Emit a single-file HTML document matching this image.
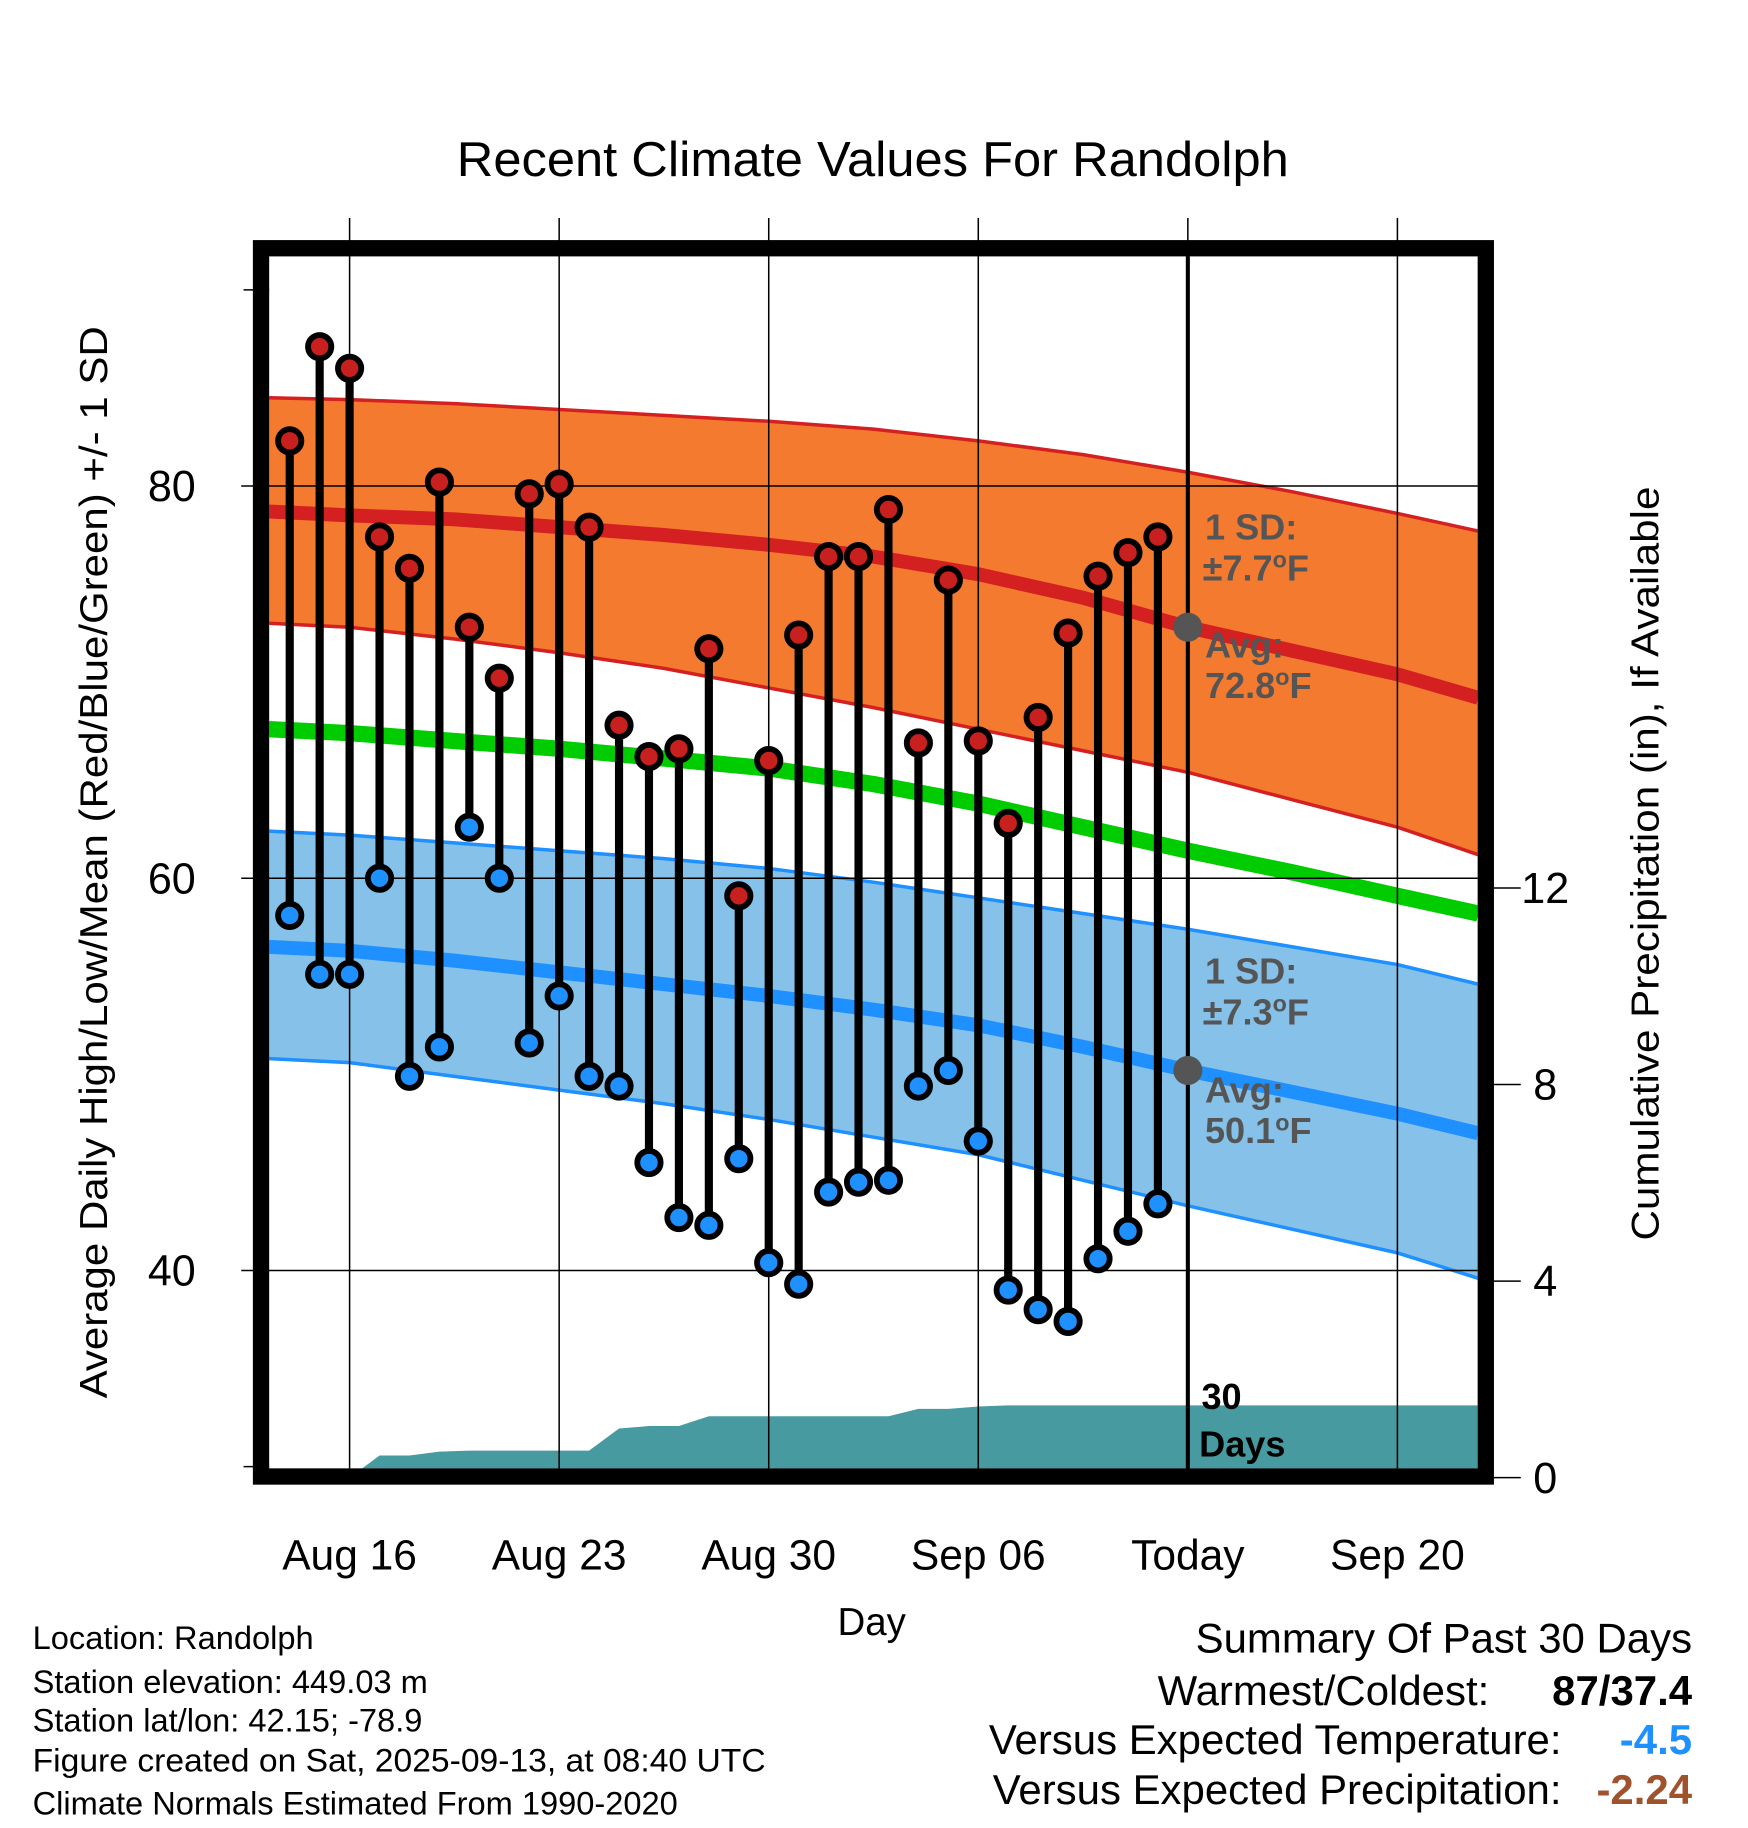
<!DOCTYPE html>
<html><head><meta charset="utf-8"><style>
html,body{margin:0;padding:0;background:#fff}
svg{display:block;font-family:"Liberation Sans",Arial,sans-serif}
</style></head><body>
<svg id="chart" width="1748" height="1828" viewBox="0 0 1500 1568.6" xmlns="http://www.w3.org/2000/svg">
<rect width="1500" height="1568.6" fill="#fff"/>
<text x="749" y="151" font-size="42" text-anchor="middle" textLength="714" lengthAdjust="spacingAndGlyphs">Recent Climate Values For Randolph</text>
<g id="plot"></g>
<text transform="translate(92,740) rotate(-90)" font-size="33" text-anchor="middle" textLength="920" lengthAdjust="spacingAndGlyphs">Average Daily High/Low/Mean (Red/Blue/Green) +/- 1 SD</text>
<text transform="translate(1423,741) rotate(-90)" font-size="33" text-anchor="middle" textLength="647" lengthAdjust="spacingAndGlyphs">Cumulative Precipitation (in), If Available</text>
<text x="748" y="1403" font-size="33" text-anchor="middle">Day</text>
<g font-size="28">
<text x="28" y="1415">Location: Randolph</text>
<text x="28" y="1453">Station elevation: 449.03 m</text>
<text x="28" y="1486">Station lat/lon: 42.15; -78.9</text>
<text x="28" y="1520" textLength="629" lengthAdjust="spacingAndGlyphs">Figure created on Sat, 2025-09-13, at 08:40 UTC</text>
<text x="28" y="1557">Climate Normals Estimated From 1990-2020</text>
</g>
<g font-size="36">
<text x="1452" y="1418" text-anchor="end">Summary Of Past 30 Days</text>
<text x="1278" y="1463" text-anchor="end">Warmest/Coldest:</text>
<text x="1452" y="1463" text-anchor="end" font-weight="bold">87/37.4</text>
<text x="1340" y="1505" text-anchor="end">Versus Expected Temperature:</text>
<text x="1452" y="1505" text-anchor="end" font-weight="bold" fill="#1e90ff">-4.5</text>
<text x="1340" y="1548" text-anchor="end">Versus Expected Precipitation:</text>
<text x="1452" y="1548" text-anchor="end" font-weight="bold" fill="#a0522d">-2.24</text>
</g>
</svg>
<script>
// data (days offset from Aug 16)
const obsDays = [-2,-1,0,1,2,3,4,5,6,7,8,9,10,11,12,13,14,15,16,17,18,19,20,21,22,23,24,25,26,27];
const highs = [82.3,87.1,86.0,77.4,75.8,80.2,72.8,70.2,79.6,80.1,77.9,67.8,66.2,66.6,71.7,59.1,66.0,72.4,76.4,76.4,78.8,66.9,75.2,67.0,62.8,68.2,72.5,75.4,76.6,77.4];
const lows = [58.1,55.1,55.1,60.0,49.9,51.4,62.6,60.0,51.6,54.0,49.9,49.4,45.5,42.7,42.3,45.7,40.4,39.3,44.0,44.5,44.6,49.4,50.2,46.6,39.0,38.0,37.4,40.6,42.0,43.4];
const precip = [0,0,0,0.45,0.45,0.53,0.55,0.55,0.55,0.55,0.55,1.0,1.05,1.05,1.25,1.25,1.25,1.25,1.25,1.25,1.25,1.4,1.4,1.45,1.47,1.47,1.47,1.47,1.47,1.47];
const normDays = [-2.7,0,3.5,7,10.5,14,17.5,21,24.5,28,31.5,35,37.7];
const highAvg = [78.7,78.5,78.3,77.9,77.5,77.0,76.4,75.5,74.3,72.8,71.6,70.4,69.2];
const highUp = [84.5,84.4,84.2,83.9,83.6,83.3,82.9,82.3,81.6,80.7,79.7,78.6,77.7];
const highLo = [73.0,72.8,72.2,71.5,70.7,69.7,68.7,67.6,66.5,65.4,64.0,62.6,61.2];
const meanAvg = [67.6,67.4,67.0,66.6,66.1,65.6,64.8,63.8,62.6,61.4,60.3,59.1,58.2];
const lowUp = [62.4,62.2,61.8,61.4,61.0,60.5,59.8,59.0,58.2,57.4,56.5,55.6,54.6];
const lowAvg = [56.5,56.3,55.8,55.2,54.6,54.0,53.3,52.5,51.4,50.2,49.1,48.0,47.0];
const lowLo = [50.8,50.6,49.9,49.2,48.5,47.7,46.8,45.9,44.6,43.3,42.1,40.9,39.6];
const xTickDays = [0,7,14,21,28,35];
const xTickLabels = ["Aug 16","Aug 23","Aug 30","Sep 06","Today","Sep 20"];
const yTicks = [40,60,80];
const y2Ticks = [0,4,8,12];
const todayDay = 28;

const X = d => 300 + d*25.69;
const Y = v => 417 + (80 - v)*16.83;
const YP = p => 1268 - p*42.17;
const L = 231, R = 1268, T = 220, B = 1260;
const NS = "http://www.w3.org/2000/svg";
const g = document.getElementById('plot');
function mk(tag, attrs, parent){const e=document.createElementNS(NS,tag);for(const k in attrs)e.setAttribute(k,attrs[k]);(parent||g).appendChild(e);return e;}
function pts(days, vals, f){return days.map((d,i)=>X(d).toFixed(1)+','+f(vals[i]).toFixed(1));}

const defs = mk('defs',{});
const cp = mk('clipPath',{id:'clip'},defs);
mk('rect',{x:L,y:T,width:R-L,height:B-T},cp);
const inner = mk('g',{'clip-path':'url(#clip)'});

let e;
e = mk('polygon',{points:pts(normDays,highUp,Y).concat(pts(normDays,highLo,Y).reverse()).join(' '),fill:'#f47a30'},inner);
 
e = mk('polygon',{points:pts(normDays,lowUp,Y).concat(pts(normDays,lowLo,Y).reverse()).join(' '),fill:'#85c1e8'},inner);
 
[[highUp,'#d42020',3,'high-upper-sd'],[highLo,'#d42020',3,'high-lower-sd'],[highAvg,'#d42020',12,'high-normal-line'],[meanAvg,'#00cc00',14,'mean-normal-line'],[lowUp,'#1e90ff',3,'low-upper-sd'],[lowLo,'#1e90ff',3,'low-lower-sd'],[lowAvg,'#1e90ff',12,'low-normal-line']].forEach(s=>{
  const l = mk('polyline',{points:pts(normDays,s[0],Y).join(' '),fill:'none',stroke:s[1],'stroke-width':s[2],'stroke-linejoin':'round'},inner);
  
  
});

const pp = pts(obsDays,precip,YP);
pp.push(X(40)+','+YP(precip[precip.length-1]).toFixed(1));
pp.push(X(40)+','+YP(0)); pp.push(X(obsDays[0]-2)+','+YP(0)); pp.unshift(X(obsDays[0]-2)+','+YP(0));
e = mk('polygon',{points:pp.join(' '),fill:'#479aa0'},inner);
 

yTicks.forEach(v=>{
  mk('line',{x1:207,x2:R,y1:Y(v),y2:Y(v),stroke:'#000','stroke-width':1.3});
  const t = mk('text',{x:168,y:Y(v)+13,'font-size':37,'text-anchor':'end'}); t.textContent=v;
   
});
[30,90].forEach(v=>mk('line',{x1:209,x2:L,y1:Y(v),y2:Y(v),stroke:'#000','stroke-width':1.3}));
y2Ticks.forEach(v=>{
  mk('line',{x1:1280,x2:1305,y1:YP(v),y2:YP(v),stroke:'#000','stroke-width':1.3});
  const t = mk('text',{x:1326,y:YP(v)+13,'font-size':37,'text-anchor':'middle'}); t.textContent=v;
   
});
xTickDays.forEach((d,i)=>{
  mk('line',{x1:X(d),x2:X(d),y1:187,y2:B,stroke:'#000','stroke-width':1.3});
  const t = mk('text',{x:X(d),y:1347,'font-size':36.5,'text-anchor':'middle'}); t.textContent=xTickLabels[i];
   
});
e = mk('line',{x1:X(todayDay),x2:X(todayDay),y1:T,y2:B,stroke:'#000','stroke-width':3.5});
 

obsDays.forEach((d,i)=>{
  const s = mk('line',{x1:X(d),x2:X(d),y1:Y(highs[i]),y2:Y(lows[i]),stroke:'#000','stroke-width':7});
   
});
obsDays.forEach((d,i)=>{
  const h = mk('circle',{cx:X(d),cy:Y(highs[i]),r:10,fill:'#c8201e',stroke:'#000','stroke-width':5});
   
  const l = mk('circle',{cx:X(d),cy:Y(lows[i]),r:10,fill:'#1e90ff',stroke:'#000','stroke-width':5});
   
});

const ti = normDays.indexOf(todayDay);
[highAvg[ti], lowAvg[ti]].forEach(v=>{
  const c = mk('circle',{cx:X(todayDay),cy:Y(v),r:12.5,fill:'#555'});
   
});
function lab(txt,x,y,fill,name){const t=mk('text',{x:x,y:y,'font-size':31,'font-weight':'bold',fill:fill});t.innerHTML=txt;return t;}
const deg = '<tspan dy="-11" font-size="20">o</tspan><tspan dy="11">F</tspan>';
lab('1 SD:',1034,463,'#555','high-sd-label');
lab('±7.7'+deg,1032,498,'#555','high-sd-value');
lab('Avg:',1034,564,'#555','high-avg-label');
lab('72.8'+deg,1034,599,'#555','high-avg-value');
lab('1 SD:',1034,844,'#555','low-sd-label');
lab('±7.3'+deg,1032,879,'#555','low-sd-value');
lab('Avg:',1034,946,'#555','low-avg-label');
lab('50.1'+deg,1034,981,'#555','low-avg-value');
lab('30',1031,1209,'#000','days-label-30');
lab('Days',1029,1250,'#000','days-label');

e = mk('rect',{x:224,y:213,width:1051,height:1054,fill:'none',stroke:'#000','stroke-width':14});
 
</script>
</body></html>
